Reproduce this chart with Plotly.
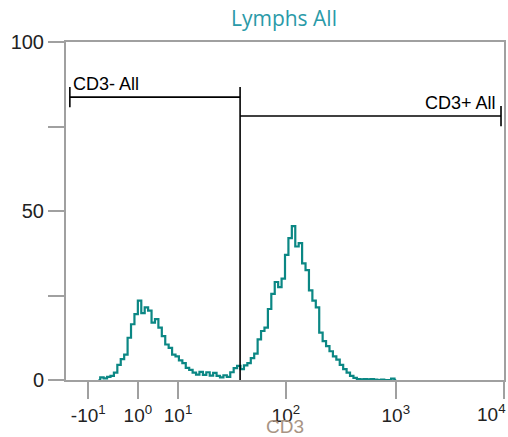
import numpy as np
import plotly.graph_objects as go

# ---- data ----
title = "Lymphs All"
x_label = "CD3"
# display channel scale 0..1024 (biexponential display)
x_tick_channels = [52, 168, 262, 514, 771, 1024]
x_tick_labels = ["-10<sup>1</sup>", "10<sup>0</sup>", "10<sup>1</sup>", "10<sup>2</sup>", "10<sup>3</sup>", "10<sup>4</sup>"]
y_tick_values = [0, 25, 50, 75, 100]
y_tick_labels = ["0", "", "50", "", "100"]

bin_width = 8
first_bin = 9
counts = [
    0.0, 0.8, 0.5, 0.9, 1.2, 2.2, 4.5, 6.2, 7.5, 12.5,
    16.5, 19.5, 23.5, 19.8, 21.5, 20.5, 17.0, 18.0, 15.5, 13.0,
    10.5, 9.5, 7.5, 7.0, 5.8, 5.0, 3.6, 3.0, 2.2, 1.6,
    2.4, 1.5, 2.3, 1.3, 2.1, 1.2, 0.8, 1.4, 0.9, 2.3,
    3.5, 4.2, 3.2, 4.3, 5.0, 6.5, 7.8, 12.0, 14.5, 15.5,
    21.0, 25.5, 29.0, 27.5, 30.0, 37.0, 42.0, 45.5, 39.5, 40.5,
    34.5, 32.5, 26.5, 23.5, 21.5, 14.0, 11.5, 10.0, 8.5, 7.0,
    6.0, 4.5, 3.2, 2.2, 1.2, 0.6, 0.3, 0.2, 0.3, 0.2,
    0.3, 0.1, 0.0, 0.1, 0.0, 0.0, 0.4, 0.0,
]

# gates: [x_start, x_end] in channels, level in %
gate_neg_name = "CD3- All"
gate_neg_x = [9, 407]
gate_neg_level = 83.7
gate_pos_name = "CD3+ All"
gate_pos_x = [407, 1017]
gate_pos_level = 78.1

# ---- figure ----
centers = (np.arange(first_bin, first_bin + len(counts)) * bin_width + bin_width / 2).tolist()

teal = "#0b8784"
fig = go.Figure()
fig.add_trace(go.Scatter(x=centers, y=counts, mode="lines", line=dict(color=teal, width=2.2, shape="hvh"),
                         hoverinfo="skip", showlegend=False))

bar_h = 3.0
gate_line = dict(color="black", width=1.6)
# negative gate
fig.add_trace(go.Scatter(x=[gate_neg_x[0], gate_neg_x[1]], y=[gate_neg_level, gate_neg_level], mode="lines",
                         line=gate_line, showlegend=False, hoverinfo="skip"))
fig.add_trace(go.Scatter(x=[gate_neg_x[0], gate_neg_x[0]], y=[gate_neg_level - bar_h, gate_neg_level + bar_h],
                         mode="lines", line=gate_line, showlegend=False, hoverinfo="skip"))
# shared boundary line down to 0
fig.add_trace(go.Scatter(x=[gate_neg_x[1], gate_neg_x[1]], y=[gate_neg_level + bar_h, 0], mode="lines",
                         line=gate_line, showlegend=False, hoverinfo="skip"))
# positive gate
fig.add_trace(go.Scatter(x=[gate_pos_x[0], gate_pos_x[1]], y=[gate_pos_level, gate_pos_level], mode="lines",
                         line=gate_line, showlegend=False, hoverinfo="skip"))
fig.add_trace(go.Scatter(x=[gate_pos_x[1], gate_pos_x[1]], y=[gate_pos_level - bar_h, gate_pos_level + bar_h],
                         mode="lines", line=gate_line, showlegend=False, hoverinfo="skip"))

fig.add_annotation(x=gate_neg_x[0] + 3, y=gate_neg_level + 0.4, text=gate_neg_name, showarrow=False,
                   xanchor="left", yanchor="bottom", font=dict(family="Liberation Sans", size=18, color="black"))
fig.add_annotation(x=gate_pos_x[1] - 7, y=gate_pos_level + 0.4, text=gate_pos_name, showarrow=False,
                   xanchor="right", yanchor="bottom", font=dict(family="Liberation Sans", size=18, color="black"))

# last tick label sits shifted inside the page edge
tick_font = dict(family="Liberation Sans", size=19, color="#222")
shown_tick_labels = x_tick_labels[:-1] + [""]
fig.add_annotation(x=x_tick_channels[-1], y=0, yref="y", text=x_tick_labels[-1], showarrow=False,
                   xanchor="right", yanchor="top", xshift=4, yshift=-19, font=tick_font)

axis_gray = "#a0a0a0"
fig.update_layout(
    width=508, height=437,
    margin=dict(l=66, r=4, t=42, b=57),
    paper_bgcolor="white", plot_bgcolor="white",
    title=dict(text=title, x=0.559, xanchor="center", y=0.958, yanchor="middle",
               font=dict(family="Open Sans", size=21, color="#2a9aa8")),
    xaxis=dict(range=[0, 1024], tickmode="array", tickvals=x_tick_channels, ticktext=shown_tick_labels,
               ticks="outside", ticklen=17, tickwidth=2, tickcolor=axis_gray,
               showline=True, linecolor=axis_gray, linewidth=2, mirror=True,
               showgrid=False, zeroline=False, automargin=False, ticklabeloverflow="allow",
               tickfont=tick_font,
               title=dict(text=x_label, standoff=0, font=dict(family="Liberation Sans", size=19, color="#a89484"))),
    yaxis=dict(range=[0, 100], tickmode="array", tickvals=y_tick_values, ticktext=y_tick_labels,
               ticks="outside", ticklen=16, tickwidth=2, tickcolor=axis_gray,
               showline=True, linecolor=axis_gray, linewidth=2, mirror=True,
               showgrid=False, zeroline=False, automargin=False,
               tickfont=dict(family="Liberation Sans", size=20, color="#222")),
)

fig.write_html("out.html")
